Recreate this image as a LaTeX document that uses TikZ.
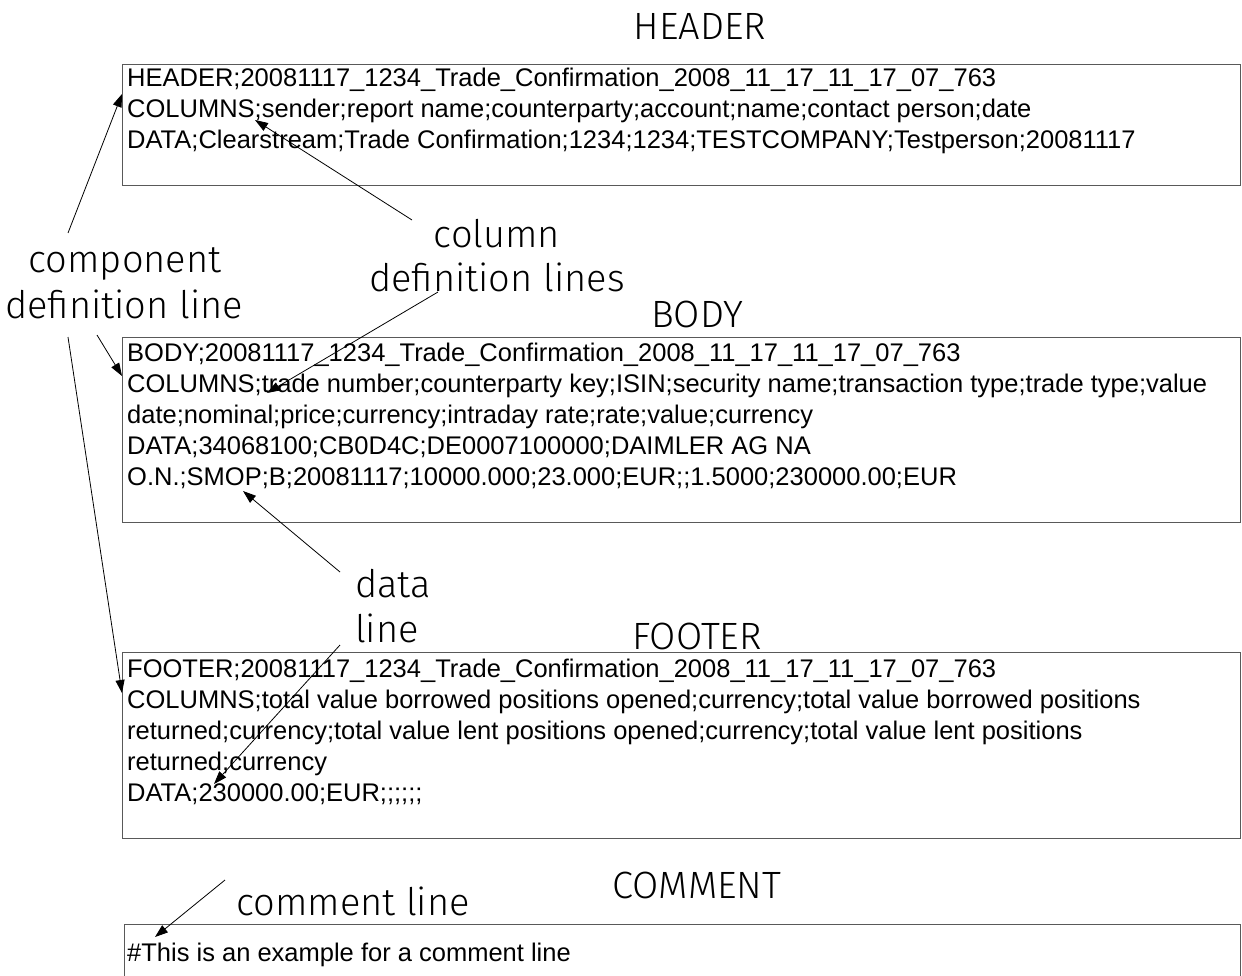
\documentclass[tikz,border=0pt]{standalone}
\usepackage{fontspec}
\setmainfont{Liberation Sans}
\newfontfamily\lblfont{Fira Sans Light}
\usetikzlibrary{arrows.meta}

\begin{document}
\begin{tikzpicture}[x=1pt,y=-1pt,
    box/.style={draw=black!65,line width=1.2pt,inner sep=0pt,anchor=north west,minimum width=1118pt},
    boxtext/.style={inner sep=0pt,anchor=north west,align=left,font=\fontsize{25.5}{31}\selectfont},
    title/.style={inner sep=0pt,anchor=base,font=\lblfont\fontsize{38}{44}\selectfont},
    ptr/.style={-{Triangle[length=13pt,width=9pt]},line width=0.8pt}]
  \clip (0,0) rectangle (1242,976);
  % the four blocks
  \node[box,minimum height=121pt] (hdr) at (122,64) {};
  \node[box,minimum height=185pt] (body) at (122,337) {};
  \node[box,minimum height=186pt] (ftr) at (122,652) {};
  \node[box,minimum height=100pt,minimum width=1116pt] (cmt) at (124,924) {};
  \node[boxtext] (hdrtxt) at ([shift={(5,4)}]hdr.north west)
    {HEADER;20081117\_1234\_Trade\_Confirmation\_2008\_11\_17\_11\_17\_07\_763\\
     COLUMNS;sender;report name;counterparty;account;name;contact person;date\\
     DATA;Clearstream;Trade Confirmation;1234;1234;TESTCOMPANY;Testperson;20081117};
  \node[boxtext] (bodytxt) at ([shift={(5,6)}]body.north west)
    {BODY;20081117\_1234\_Trade\_Confirmation\_2008\_11\_17\_11\_17\_07\_763\\
     COLUMNS;trade number;counterparty key;ISIN;security name;transaction type;trade type;value\\
     date;nominal;price;currency;intraday rate;rate;value;currency\\
     DATA;34068100;CB0D4C;DE0007100000;DAIMLER AG NA\\
     O.N.;SMOP;B;20081117;10000.000;23.000;EUR;;1.5000;230000.00;EUR};
  \node[boxtext] (ftrtxt) at ([shift={(5,7)}]ftr.north west)
    {FOOTER;20081117\_1234\_Trade\_Confirmation\_2008\_11\_17\_11\_17\_07\_763\\
     COLUMNS;total value borrowed positions opened;currency;total value borrowed positions\\
     returned;currency;total value lent positions opened;currency;total value lent positions\\
     returned;currency\\
     DATA;230000.00;EUR;;;;;;};
  \node[boxtext] (cmttxt) at ([shift={(3,19)}]cmt.north west)
    {\#This is an example for a comment line};
  % titles
  \node[title] (hdrtitle) at (700,40) {HEADER};
  \node[title] (bodytitle) at (697,327) {BODY};
  \node[title] (ftrtitle) at (697,649) {FOOTER};
  \node[title] (cmttitle) at (697,898) {COMMENT};
  % labels
  \node[title] (compA) at (125,273) {component};
  \node[title] (compB) at (124,318) {definition line};
  \node[title] (colA) at (497,248) {column};
  \node[title] (colB) at (497,292) {definition lines};
  \node[title,anchor=base west] (dataA) at (355,597) {data};
  \node[title,anchor=base west] (dataB) at (355,642) {line};
  \node[title] (cmtlbl) at (353,915) {comment line};
  % pointers
  \draw[ptr] ([shift={(-57,-40)}]compA.base) -- ([shift={(0,30)}]hdr.north west);
  \draw[ptr] ([shift={(-27,17)}]compB.base) -- ([shift={(0,39)}]body.north west);
  \draw[ptr] ([shift={(-56,19)}]compB.base) -- ([shift={(0,41)}]ftr.north west);
  \draw[ptr] ([shift={(-85,-28)}]colA.base) -- ([shift={(133,56)}]hdr.north west);
  \draw[ptr] ([shift={(-59,0)}]colB.base) -- ([shift={(145,56)}]body.north west);
  \draw[ptr] ([shift={(-15,-25)}]dataA.base west) -- ([shift={(121,154)}]body.north west);
  \draw[ptr] ([shift={(-15,3)}]dataB.base west) -- ([shift={(92,132)}]ftr.north west);
  \draw[ptr] ([shift={(-128,-35)}]cmtlbl.base) -- ([shift={(31,13)}]cmt.north west);
\end{tikzpicture}
\end{document}
